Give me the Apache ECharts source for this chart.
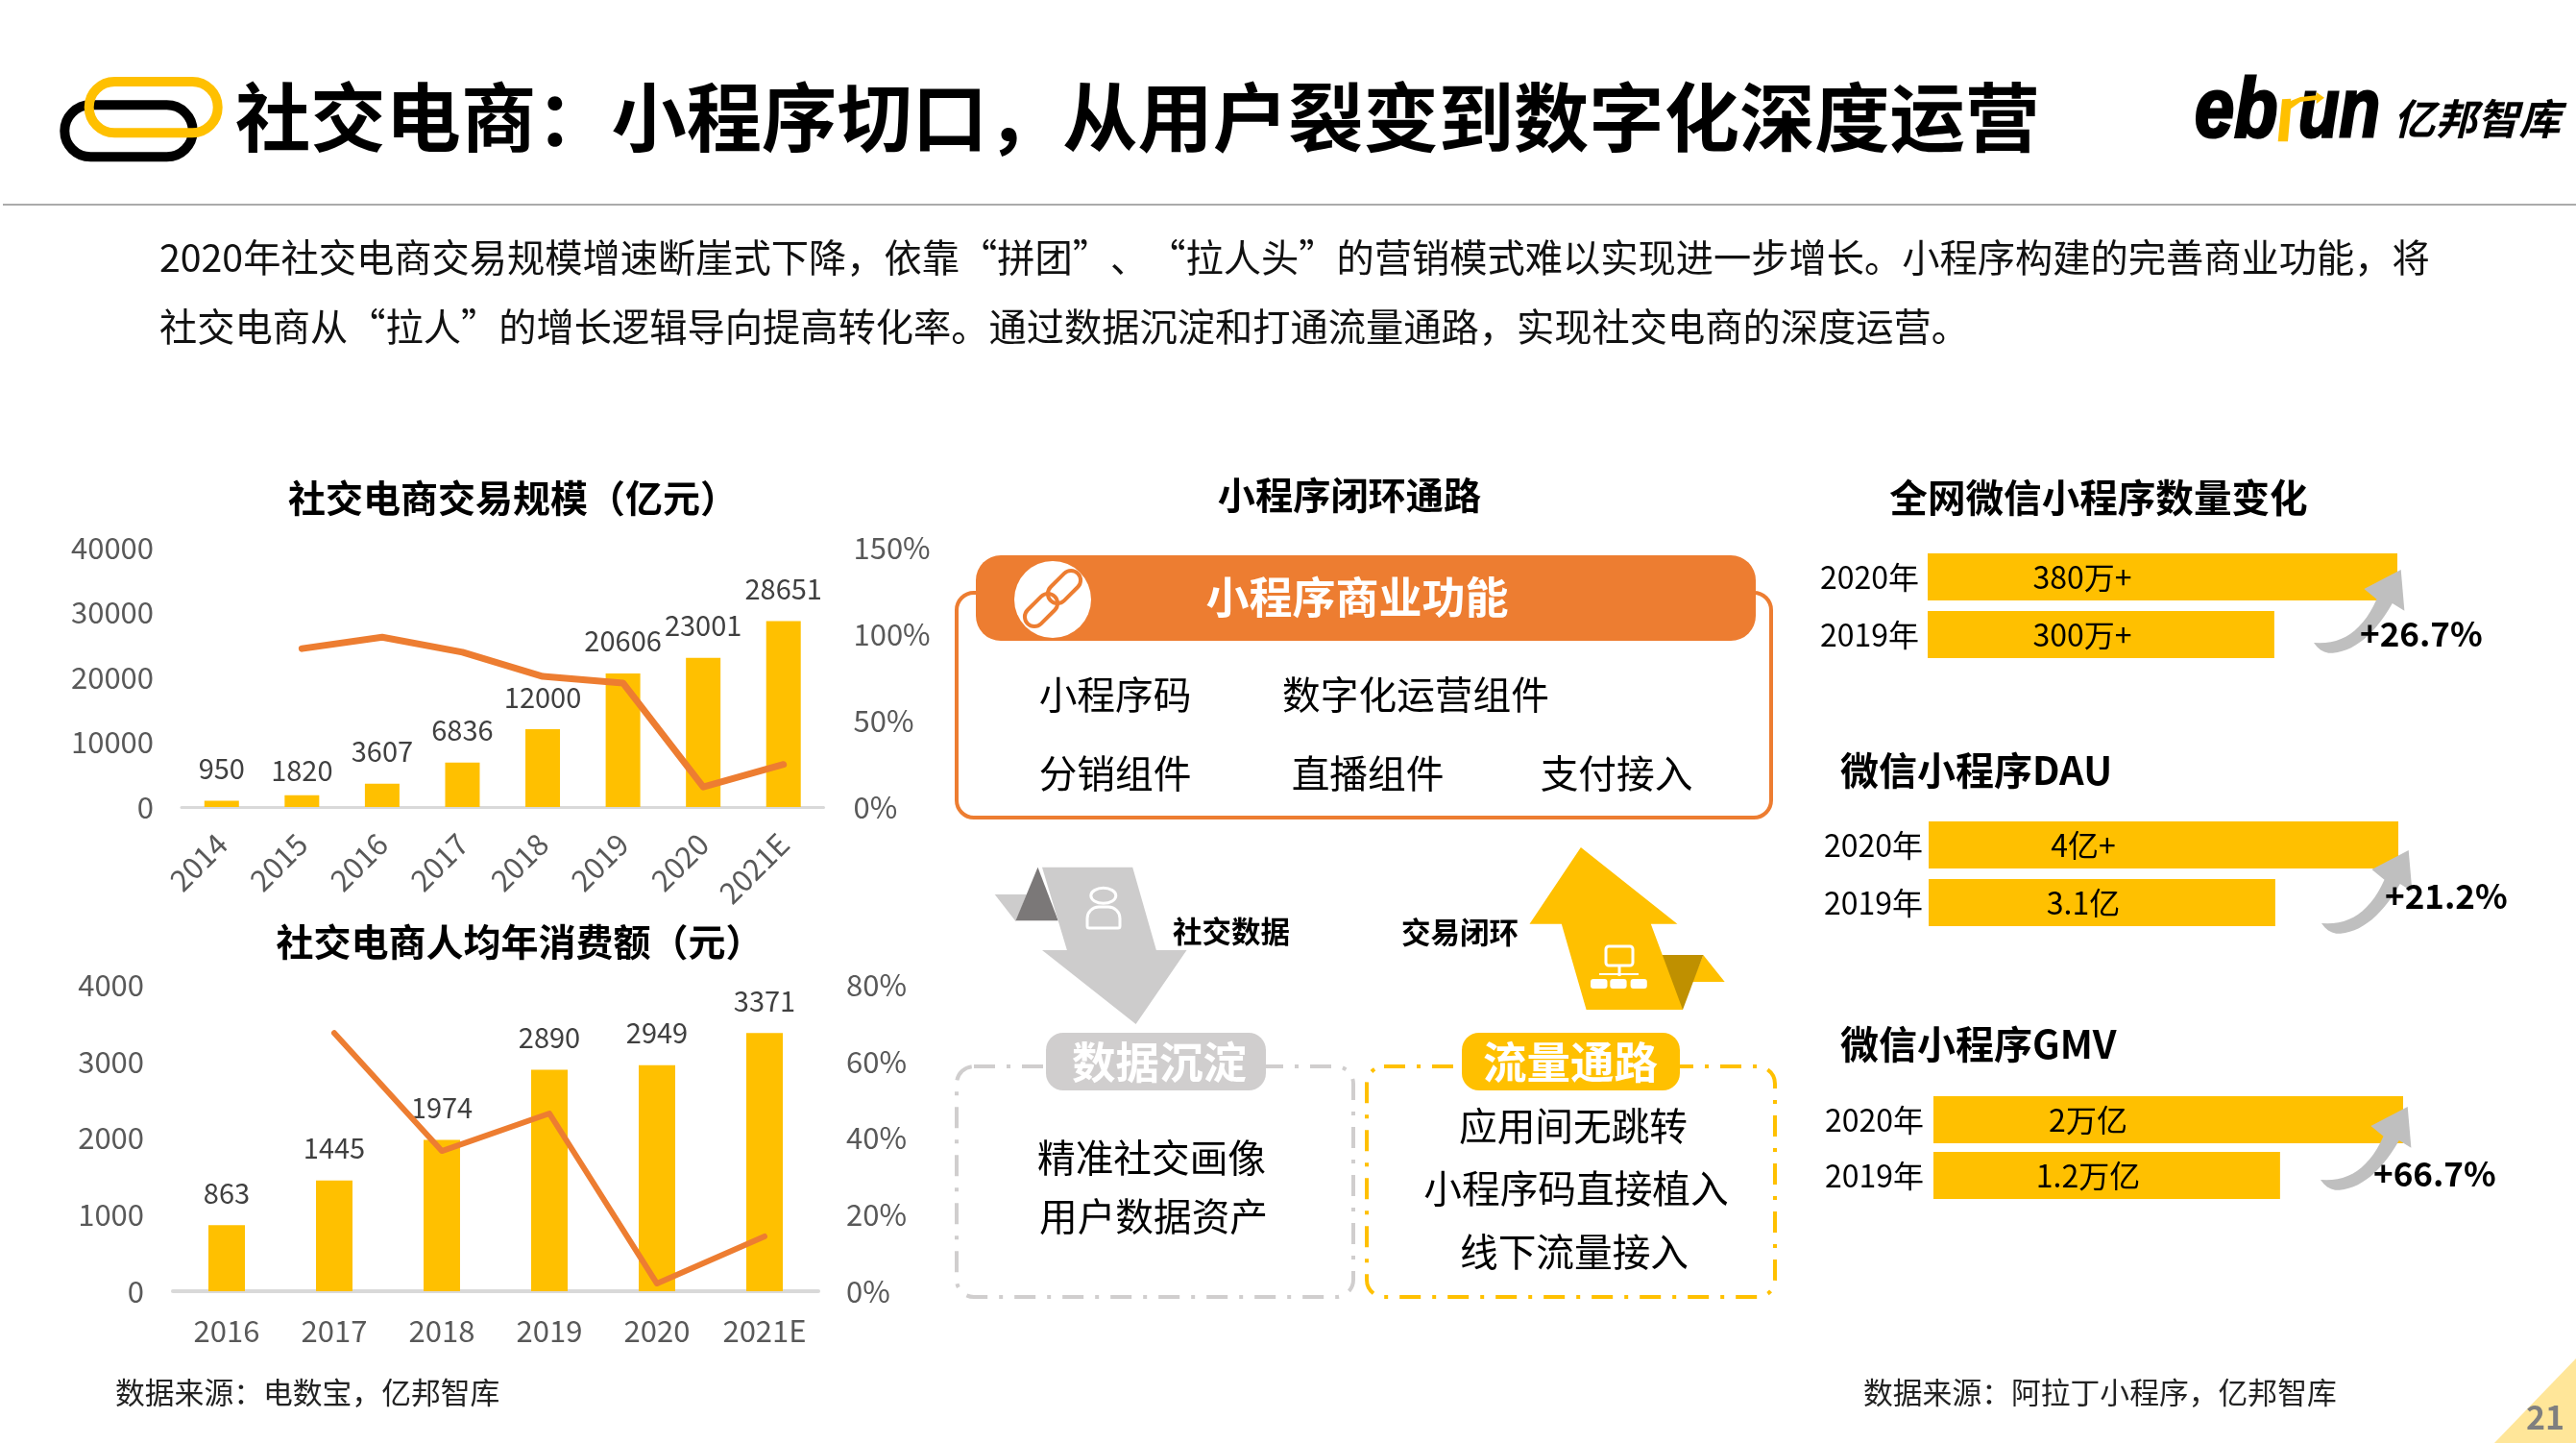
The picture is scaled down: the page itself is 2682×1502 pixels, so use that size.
<!DOCTYPE html>
<html><head><meta charset="utf-8">
<style>html,body{margin:0;padding:0;background:#fff}#c{width:2682px;height:1502px}</style>
<script src="https://cdn.jsdelivr.net/npm/echarts@6/dist/echarts.min.js"></script>
</head><body><div id="c"></div>
<script>
const gmvYears = ['2014','2015','2016','2017','2018','2019','2020','2021E'];
const gmvValues = [950,1820,3607,6836,12000,20606,23001,28651];
const gmvGrowth = [null,91.6,98.2,89.5,75.5,71.7,11.6,24.6];
const gmvAxisLeft = {min:0,max:40000,interval:10000};
const gmvAxisRight = {min:0,max:150,interval:50};
const spendYears = ['2016','2017','2018','2019','2020','2021E'];
const spendValues = [863,1445,1974,2890,2949,3371];
const spendGrowth = [null,67.4,36.6,46.4,2.0,14.3];
const spendAxisLeft = {min:0,max:4000,interval:1000};
const spendAxisRight = {min:0,max:80,interval:20};
const compareYears = ['2020年','2019年'];
const appBarLength = [100,73.8];
const appBarText = ['380万+','300万+'];
const dauBarLength = [100,73.8];
const dauBarText = ['4亿+','3.1亿'];
const gmvBarLength = [100,73.8];
const gmvBarText = ['2万亿','1.2万亿'];
const growthText = ['+26.7%','+21.2%','+66.7%'];
const pageTitle = '社交电商：小程序切口，从用户裂变到数字化深度运营';
const bodyLines = ['2020年社交电商交易规模增速断崖式下降，依靠“拼团”、“拉人头”的营销模式难以实现进一步增长。小程序构建的完善商业功能，将',
  '社交电商从“拉人”的增长逻辑导向提高转化率。通过数据沉淀和打通流量通路，实现社交电商的深度运营。'];

const F = '"Noto Sans CJK SC","Noto Sans",sans-serif';
const YEL='#FFC000', ORG='#ED7D31', GRY='#D0CECE', AX='#595959';
const T=(text,x,y,size,o={})=>({type:'text',x,y,scaleX:o.sx||1,silent:true,z:o.z||20,style:{text,fontFamily:o.f||F,fontSize:size,fontWeight:o.w||400,fontStyle:o.i||'normal',fill:o.c||'#000',align:o.a||'center',verticalAlign:'middle',stroke:o.st||null,lineWidth:o.lw||0}});
const P=(points,fill,z=5)=>({type:'polygon',z,silent:true,shape:{points},style:{fill}});
const R=(x,y,w,h,r,style,z=5)=>({type:'rect',z,silent:true,shape:{x,y,width:w,height:h,r},style});
function quad(a,c,b,n=14){const o=[];for(let i=1;i<=n;i++){const t=i/n,u=1-t;o.push([u*u*a[0]+2*u*t*c[0]+t*t*b[0],u*u*a[1]+2*u*t*c[1]+t*t*b[1]]);}return o;}
function curvedArrow(x0,y0){
  const pts=[[0,0],...quad([0,0],[43.5,4],[65.5,-45.3]),[52.4,-56],[90.7,-76],[94.4,-33.3],[81.8,-41],...quad([81.8,-41],[54,7.4],[19.9,10.7]),...quad([19.9,10.7],[8,12],[0,0],5)];
  return P(pts.map(p=>[p[0]+x0,p[1]+y0]),'#BFBFBF',12);
}

const graphics=[
  // header
  R(67.3,109.3,133.4,54,27,{fill:'none',stroke:'#000',lineWidth:10},3),
  R(92.7,85,134,53.3,26.6,{fill:'none',stroke:YEL,lineWidth:10},4),
  T(pageTitle,245,122,78.3,{a:'left',w:700}),
  {type:'line',silent:true,z:2,shape:{x1:3,y1:213,x2:2682,y2:213},style:{stroke:'#ABABAB',lineWidth:2}},
  T('eb',2285,118,87,{a:'left',w:700,i:'italic',f:'"Liberation Sans"',sx:.85,st:'#000',lw:3}),
  T('un',2393,118,87,{a:'left',w:700,i:'italic',f:'"Liberation Sans"',sx:.8,st:'#000',lw:3}),
  P([[2371.7,147.3],[2382,147.3],[2385,113.3],[2395,106],[2411.7,104],[2411.7,108],[2420,101.7],[2411.7,96],[2411.7,99.3],[2395,101],[2385,105],[2385.3,102.7],[2376,103.3]],YEL,21),
  T('亿邦智库',2492,123,43.5,{a:'left',w:700,i:'italic'}),
  T(bodyLines[0],166,268,39.25,{a:'left',c:'#111'}),
  T(bodyLines[1],166,340,39.25,{a:'left',c:'#111'}),
  // section titles
  T('社交电商交易规模（亿元）',534,518,39,{w:700}),
  T('社交电商人均年消费额（元）',541,980,39,{w:700}),
  T('小程序闭环通路',1405,515,39.2,{w:700}),
  T('全网微信小程序数量变化',2185,518,39.6,{w:700}),
  T('微信小程序DAU',1916,802,40,{a:'left',w:700}),
  T('微信小程序GMV',1916,1087,40,{a:'left',w:700}),
  // orange panel
  R(996,617,848,234,18,{fill:'none',stroke:ORG,lineWidth:4},4),
  R(1016,578,812,89,26,{fill:ORG},5),
  {type:'circle',silent:true,z:6,shape:{cx:1096,cy:624,r:40},style:{fill:'#fff'}},
  {type:'rect',silent:true,z:7,x:1084,y:635,rotation:Math.PI/4,shape:{x:-20,y:-10,width:40,height:20,r:10},style:{fill:'none',stroke:ORG,lineWidth:4}},
  {type:'rect',silent:true,z:7,x:1108,y:611,rotation:Math.PI/4,shape:{x:-20,y:-10,width:40,height:20,r:10},style:{fill:'none',stroke:ORG,lineWidth:4}},
  T('小程序商业功能',1413,622,45,{w:700,c:'#fff'}),
  T('小程序码',1161,723,39.7), T('数字化运营组件',1474,723,39.7),
  T('分销组件',1161,805,39.7), T('直播组件',1424,805,39.7), T('支付接入',1683,805,39.7),
  // gray arrow
  P([[1035.7,931],[1069,931],[1057.5,959]],'#CDCCCC',5),
  P([[1080.5,902.7],[1101.7,958.3],[1057.5,958.3]],'#7B7878',6),
  P([[1085,902.7],[1179.2,902.7],[1203.9,989],[1235.5,989],[1182.6,1066],[1085,989],[1110.9,989]],'#CDCCCC',7),
  {type:'ellipse',silent:true,z:8,shape:{cx:1148.8,cy:932.3,rx:13,ry:8},style:{fill:'none',stroke:'#fff',lineWidth:3}},
  R(1132,944,34,22,[12,12,2,2],{fill:'none',stroke:'#fff',lineWidth:3},8),
  T('社交数据',1282,969,30.5,{w:700}),
  // yellow arrow
  P([[1773.3,994],[1795.7,1022],[1761.9,1022]],YEL,5),
  P([[1729.1,994],[1773.3,994],[1752,1051],[1745.2,1051]],'#BF9000',6),
  P([[1645.9,882],[1746.4,961.7],[1718.8,961.7],[1752,1051],[1651.6,1051],[1625.8,961.7],[1592.5,961.7]],YEL,7),
  R(1672,985,28,20,3,{fill:'none',stroke:'#fff',lineWidth:3},8),
  {type:'line',silent:true,z:8,shape:{x1:1686,y1:1005,x2:1686,y2:1016},style:{stroke:'#fff',lineWidth:3}},
  {type:'line',silent:true,z:8,shape:{x1:1665,y1:1014,x2:1706,y2:1014},style:{stroke:'#fff',lineWidth:2}},
  R(1656,1019,17.5,10,3,{fill:'#fff'},8), R(1676.3,1019,17.3,10,3,{fill:'#fff'},8), R(1697.6,1019,17.2,10,3,{fill:'#fff'},8),
  T('交易闭环',1520,970,30.5,{w:700}),
  // dashed panels
  R(996,1110,413,240,18,{fill:'none',stroke:GRY,lineWidth:4,lineDash:[22,12,4,12]},4),
  R(1423,1110,425,240,18,{fill:'none',stroke:YEL,lineWidth:4,lineDash:[22,12,4,12]},4),
  R(1089,1075,229,60,18,{fill:GRY},6),
  R(1522,1075,227,60,18,{fill:YEL},6),
  T('数据沉淀',1207,1106,45.5,{w:700,c:'#fff'}),
  T('流量通路',1635,1106,45.5,{w:700,c:'#fff'}),
  T('精准社交画像',1199,1205,39.7), T('用户数据资产',1201,1266,39.7),
  T('应用间无跳转',1638,1172,39.7), T('小程序码直接植入',1641,1237,39.7), T('线下流量接入',1639,1303,39.7),
  // curved arrows + growth
  curvedArrow(2409,669), curvedArrow(2417,961), curvedArrow(2416,1228),
  T(growthText[0],2457,660,35,{a:'left',w:700}),
  T(growthText[1],2483,933,35,{a:'left',w:700}),
  T(growthText[2],2471,1222,35,{a:'left',w:700}),
  // footer
  T('数据来源：电数宝，亿邦智库',120,1449,30.8,{a:'left',c:'#222'}),
  T('数据来源：阿拉丁小程序，亿邦智库',1940,1449,30.8,{a:'left',c:'#222'}),
  P([[2597,1502],[2682,1414],[2682,1502]],'#FFE699',3),
  T('21',2650,1475,34,{w:700,c:'#7F7F7F'})
];

const grids=[
  {left:189,top:570,width:668.5,height:270},
  {left:180,top:1025,width:672,height:319},
  {left:2007,top:570.5,width:489,height:120},
  {left:2008,top:849.5,width:489,height:120},
  {left:2013,top:1136.5,width:489,height:116}
];
const catX=(i,data,rotate)=>({type:'category',gridIndex:i,data,axisTick:{show:false},
  axisLine:{lineStyle:{color:'#D9D9D9',width:i===0?3:4}},
  axisLabel:{color:AX,fontSize:i===0?31:31,fontFamily:F,rotate,margin:rotate?33:26,interval:0}});
const plain=v=>String(v);
const valY=(i,s,pos,margin,fmt)=>({type:'value',gridIndex:i,position:pos,...s,splitLine:{show:false},axisLine:{show:false},axisTick:{show:false},
  axisLabel:{color:AX,fontSize:31,fontFamily:F,margin,formatter:fmt||plain}});
const hideX=i=>({type:'value',gridIndex:i,min:0,max:100,show:false});
const catY=(i,margin)=>({type:'category',gridIndex:i,inverse:true,data:compareYears,axisLine:{show:false},axisTick:{show:false},splitLine:{show:false},
  axisLabel:{color:'#000',fontSize:32,fontFamily:F,margin}});
const barLabel=()=>({show:true,position:'top',distance:19,color:'#404040',fontSize:29,fontFamily:F});
const mini=(i,yi,vals,texts,cx)=>({type:'bar',xAxisIndex:i,yAxisIndex:yi,barWidth:49,itemStyle:{color:YEL},silent:true,
  data:vals.map((v,k)=>({value:v,label:{formatter:texts[k]}})),
  label:{show:true,position:[cx,'50%'],align:'center',verticalAlign:'middle',color:'#000',fontSize:32,fontFamily:F}});
const growthLine=(x,y,d,w)=>({type:'line',xAxisIndex:x,yAxisIndex:y,data:d,symbol:'none',silent:true,z:6,connectNulls:false,
  lineStyle:{color:ORG,width:w,cap:'round',join:'round'}});

const chart=echarts.init(document.getElementById('c'),null,{renderer:'canvas'});
chart.setOption({
  animation:false,backgroundColor:'#fff',
  grid:grids,
  xAxis:[catX(0,gmvYears,45),catX(1,spendYears,0),hideX(2),hideX(3),hideX(4)],
  yAxis:[
    valY(0,gmvAxisLeft,'left',29),
    valY(0,gmvAxisRight,'right',31,'{value}%'),
    valY(1,spendAxisLeft,'left',30),
    valY(1,spendAxisRight,'right',29,'{value}%'),
    catY(2,9),catY(3,6),catY(4,10)
  ],
  series:[
    {type:'bar',xAxisIndex:0,yAxisIndex:0,barWidth:36,silent:true,itemStyle:{color:YEL},label:barLabel(),
     data:gmvValues.map((v,i)=>i===1?{value:v,label:{offset:[0,8]}}:v)},
    growthLine(0,1,gmvGrowth,7),
    {type:'bar',xAxisIndex:1,yAxisIndex:2,barWidth:38,silent:true,itemStyle:{color:YEL},label:barLabel(),data:spendValues},
    growthLine(1,3,spendGrowth,6),
    mini(2,4,appBarLength,appBarText,161),
    mini(3,5,dauBarLength,dauBarText,161),
    mini(4,6,gmvBarLength,gmvBarText,161)
  ],
  graphic:{elements:graphics}
});
</script></body></html>
